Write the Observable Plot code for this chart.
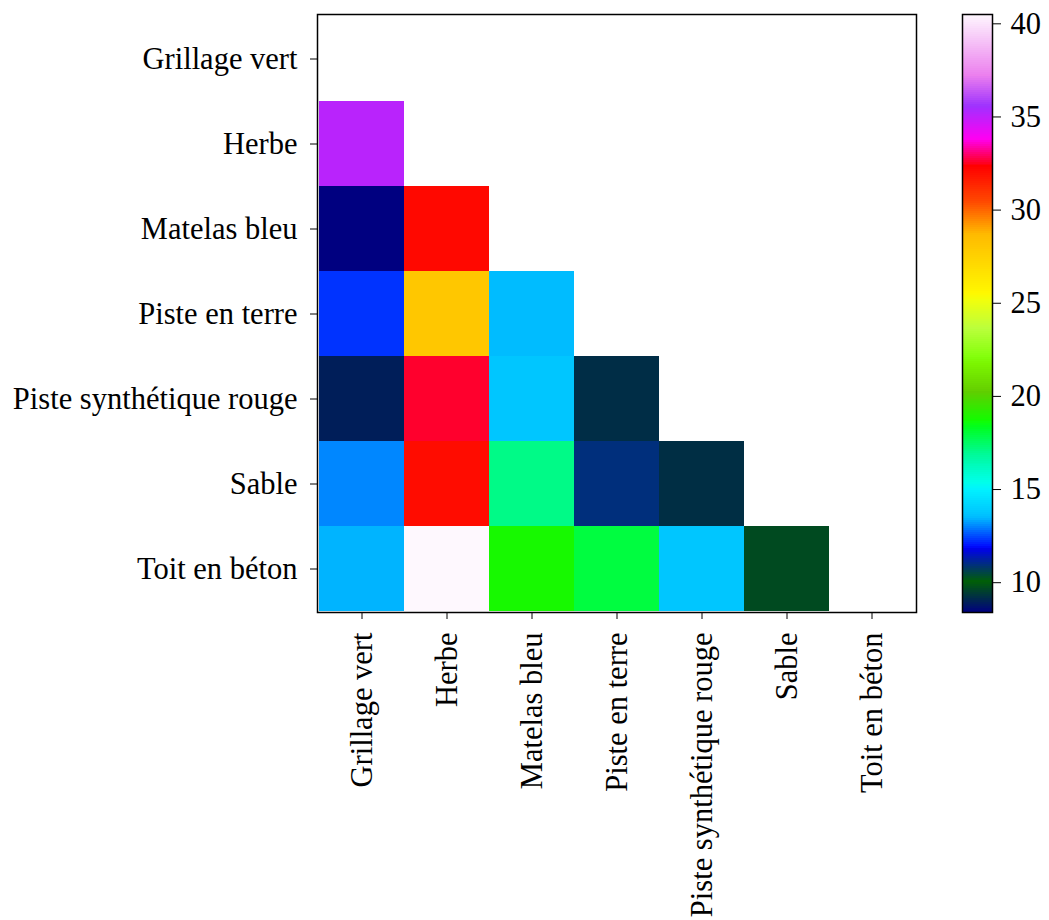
<!DOCTYPE html>
<html>
<head>
<meta charset="utf-8">
<script src="https://cdn.jsdelivr.net/npm/d3@7"></script>
<script src="https://cdn.jsdelivr.net/npm/@observablehq/plot@0.6"></script>
<style>
  html, body { margin: 0; padding: 0; background: white; }
  #wrap { position: relative; width: 1049px; height: 920px; }
  #main { position: absolute; left: 0; top: 0; }
  #bar { position: absolute; left: 940px; top: 0; }
</style>
</head>
<body>
<div id="wrap"><div id="main"></div><div id="bar"></div></div>
<script>
// Categories (rows = y, columns = x)
const categories = ["Grillage vert", "Herbe", "Matelas bleu", "Piste en terre", "Piste synthétique rouge", "Sable", "Toit en béton"];

// Lower-triangular values, one array per row (value for each column before the diagonal)
const rowGrillageVert = [];
const rowHerbe = [35.1];
const rowMatelasBleu = [8.4, 32.1];
const rowPisteEnTerre = [12.25, 28.0, 13.5];
const rowPisteSynthetique = [8.92, 32.6, 13.7, 9.17];
const rowSable = [13.0, 32.0, 17.1, 10.93, 9.2];
const rowToitEnBeton = [13.4, 40.5, 18.8, 17.95, 13.7, 9.68];
const rows = [rowGrillageVert, rowHerbe, rowMatelasBleu, rowPisteEnTerre, rowPisteSynthetique, rowSable, rowToitEnBeton];

const colorbarTicks = [10, 15, 20, 25, 30, 35, 40];
const vmin = 8.4, vmax = 40.5;

// gist_ncar-like colormap segment data
const ncarRed = [[0,0],[0.3098,0],[0.3725,0.3993],[0.4235,0.5003],[0.5333,1],[0.7922,1],[0.8471,0.6218],[0.8980,0.9235],[1,0.9961]];
const ncarGreen = [[0,0],[0.0510,0.3722],[0.1059,0],[0.1569,0.7202],[0.1608,0.7537],[0.1647,0.7752],[0.2157,1],[0.2588,0.9804],[0.2706,0.9804],[0.3176,1],[0.3686,0.8081],[0.4275,1],[0.5216,1],[0.6314,0.7292],[0.6863,0.2796],[0.7451,0],[0.7922,0],[0.8431,0.1753],[0.8980,0.5],[1,0.9725]];
const ncarBlue = [[0,0.5020],[0.0510,0.0222],[0.1098,1],[0.2039,1],[0.2627,0.6145],[0.3216,0],[0.4157,0],[0.4745,0.2342],[0.5333,0],[0.7451,0],[0.7922,0.95],[0.8431,1],[0.8980,0.9341],[1,0.9961]];

function channel(seg, t) {
  if (t <= seg[0][0]) return seg[0][1];
  for (let i = 1; i < seg.length; i++) {
    if (t <= seg[i][0]) {
      const [t0, v0] = seg[i - 1], [t1, v1] = seg[i];
      return v0 + (v1 - v0) * (t - t0) / (t1 - t0);
    }
  }
  return seg[seg.length - 1][1];
}
function gistNcar(t) {
  t = Math.max(0, Math.min(1, t));
  const c = x => Math.round(255 * x);
  return `rgb(${c(channel(ncarRed, t))},${c(channel(ncarGreen, t))},${c(channel(ncarBlue, t))})`;
}

const cells = [];
rows.forEach((vals, i) => vals.forEach((v, j) => cells.push({row: categories[i], col: categories[j], value: v})));

const font = {fontFamily: "'Liberation Serif', serif", fontSize: "30.5px", color: "black", background: "white", overflow: "visible"};
const colorScale = {type: "linear", domain: [vmin, vmax], interpolate: gistNcar};

const main = Plot.plot({
  width: 940, height: 920,
  marginLeft: 317, marginRight: 24, marginTop: 14, marginBottom: 308,
  style: font,
  x: {domain: categories, label: null, padding: 0, tickRotate: -90, tickSize: 7, tickPadding: 13},
  y: {domain: categories, label: null, padding: 0, tickSize: 7, tickPadding: 13},
  color: colorScale,
  marks: [
    Plot.cell(cells, {x: "col", y: "row", fill: "value", inset: 0, shapeRendering: "crispEdges"}),
    Plot.frame({stroke: "black", strokeWidth: 1.5})
  ]
});
document.getElementById("main").appendChild(main);

const steps = d3.range(300).map(i => [vmin + (vmax - vmin) * i / 300, vmin + (vmax - vmin) * (i + 1) / 300]);
const bar = Plot.plot({
  width: 109, height: 920,
  marginLeft: 22, marginRight: 57, marginTop: 14, marginBottom: 308,
  style: font,
  x: {domain: [0, 1], axis: null},
  y: {domain: [vmin, vmax], axis: "right", ticks: colorbarTicks, label: null, tickSize: 8, tickPadding: 10},
  color: colorScale,
  marks: [
    Plot.rect(steps, {x1: 0, x2: 1, y1: d => d[0], y2: d => d[1] + (vmax - vmin) / 600, fill: d => (d[0] + d[1]) / 2, shapeRendering: "crispEdges"}),
    Plot.frame({stroke: "black", strokeWidth: 1.5})
  ]
});
document.getElementById("bar").appendChild(bar);
</script>
</body>
</html>
